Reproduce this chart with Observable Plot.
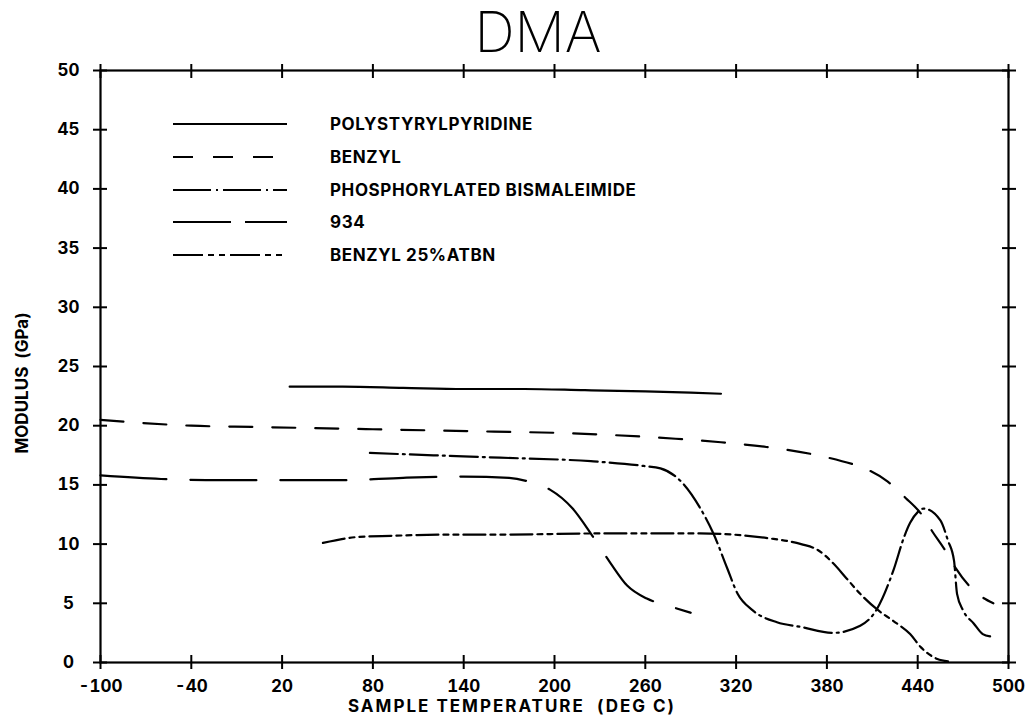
<!DOCTYPE html>
<html>
<head>
<meta charset="utf-8">
<script src="https://cdn.jsdelivr.net/npm/d3@7"></script>
<script src="https://cdn.jsdelivr.net/npm/@observablehq/plot@0.6"></script>
<style>
  body { margin: 0; background: #fff; }
  #wrap { position: relative; width: 1035px; height: 725px; font-family: Inter, "DejaVu Sans", sans-serif; }
  .lbl { position: absolute; font-weight: 700; font-size: 17px; line-height: 16px; color: #000; white-space: nowrap; }
  #title { position: absolute; left: 0; top: 2px; width: 1076px; text-align: center; font-family: Inter, "DejaVu Sans", sans-serif; font-weight: 200; font-size: 56px; line-height: 60px; color: #000; }
  #legend { position: absolute; left: 173px; top: 110px; }
  .row { position: absolute; left: 0; height: 28px; width: 520px; }
  .row svg { position: absolute; left: 0; top: 0; }
  .row span { position: absolute; left: 157px; top: 4px; font-weight: 700; font-size: 17px; line-height: 20px; letter-spacing: 0.6px; white-space: nowrap; }
</style>
</head>
<body>
<div id="wrap">
  <div id="title">DMA</div>
  <div id="chart"></div>
  <div class="lbl" id="xlab" style="left:348px; top:698px; letter-spacing: 2px;">SAMPLE TEMPERATURE &nbsp;(DEG C)</div>
  <div class="lbl" id="ylab" style="left:22px; top:383px; transform: translate(-50%,-50%) rotate(-90deg);">MODULUS &nbsp;(GPa)</div>
  <div id="legend"></div>
</div>
<script>
// ---- data ----
const seriesNames = ["POLYSTYRYLPYRIDINE", "BENZYL", "PHOSPHORYLATED BISMALEIMIDE", "934", "BENZYL 25%ATBN"];

const polyT = [25, 60, 100, 140, 180, 220, 260, 290, 310];
const polyE = [23.3, 23.3, 23.2, 23.1, 23.1, 23.0, 22.9, 22.8, 22.7];

const benzylT = [-100, -80, -40, 0, 40, 80, 120, 160, 200, 240, 280, 310, 340, 370, 390, 405, 420, 432, 442, 450, 458, 465, 476, 490];
const benzylE = [20.5, 20.3, 20.0, 19.9, 19.8, 19.7, 19.6, 19.5, 19.4, 19.2, 18.9, 18.6, 18.2, 17.6, 17.0, 16.4, 15.3, 13.9, 12.6, 11.0, 9.5, 8.0, 6.2, 5.0];

const phosT = [78, 120, 164, 224, 259, 270, 285, 296, 305, 314, 321, 331, 347, 363, 384, 402, 413, 424, 431, 435, 440, 444, 455, 460, 464, 466, 470, 477, 483, 488];
const phosE = [17.7, 17.5, 17.3, 17.0, 16.6, 16.4, 15.1, 13.1, 10.9, 8.0, 5.8, 4.4, 3.4, 3.0, 2.5, 3.1, 4.5, 7.8, 10.6, 11.8, 12.7, 13.0, 12.0, 10.3, 8.6, 5.8, 4.4, 3.3, 2.4, 2.2];

const t934T = [-100, -60, -20, 20, 60, 100, 140, 170, 185, 197, 212, 225, 237, 248, 261, 275, 290];
const t934E = [15.8, 15.5, 15.4, 15.4, 15.4, 15.6, 15.7, 15.6, 15.2, 14.6, 13.0, 10.7, 8.4, 6.5, 5.4, 4.8, 4.2];

const atbnT = [47, 70, 92, 130, 164, 230, 296, 341, 363, 374, 384, 393, 402, 413, 424, 435, 442, 453, 460];
const atbnE = [10.1, 10.6, 10.7, 10.8, 10.8, 10.9, 10.9, 10.5, 10.0, 9.5, 8.4, 7.1, 5.8, 4.5, 3.5, 2.4, 1.3, 0.3, 0.1];

const xTicks = [-100, -40, 20, 80, 140, 200, 260, 320, 380, 440, 500];
const yTicks = [0, 5, 10, 15, 20, 25, 30, 35, 40, 45, 50];

// ---- styles ----
const plotDash = ["none", "23,20", "28,5,2,5", "66,24", "22,5,5,5,5,5"];
const legendDash = ["none", "20,20", "38,5,2,5", "58,14", "30,5,6,5,6,5"];

const series = [
  [polyT, polyE], [benzylT, benzylE], [phosT, phosE], [t934T, t934E], [atbnT, atbnE]
];
const rows = series.flatMap(([T, E], k) => T.map((t, i) => ({s: seriesNames[k], t, e: E[i]})));

const lineMarks = seriesNames.map((name, k) =>
  Plot.line(rows.filter(d => d.s === name), {
    x: "t", y: "e", stroke: "#000", strokeWidth: 2.2,
    strokeDasharray: plotDash[k], curve: "monotone-x"
  })
);

const fmt = d => String(d);
const chart = Plot.plot({
  width: 1035,
  height: 725,
  marginTop: 70,
  marginRight: 27,
  marginBottom: 63,
  marginLeft: 100,
  style: {fontFamily: "Inter, 'DejaVu Sans', sans-serif", fontSize: "17px", fontWeight: 700, color: "#000", background: "#fff"},
  x: {domain: [-100, 500], ticks: xTicks},
  y: {domain: [0, 50], ticks: yTicks},
  marks: [
    ...lineMarks,
    Plot.frame({stroke: "#000", strokeWidth: 2.2}),
    Plot.axisX(xTicks, {anchor: "bottom", tickSize: 14, dy: -7, tickPadding: 10, tickFormat: fmt, label: null, strokeWidth: 2}),
    Plot.axisX(xTicks, {anchor: "top", tickSize: 14, dy: 7, tickFormat: () => "", label: null, strokeWidth: 2}),
    Plot.axisY(yTicks, {anchor: "left", tickSize: 14, dx: 7, tickPadding: 25, textAnchor: "middle", tickFormat: fmt, label: null, strokeWidth: 2}),
    Plot.axisY(yTicks, {anchor: "right", tickSize: 14, dx: -7, tickFormat: () => "", label: null, strokeWidth: 2})
  ]
});
document.getElementById("chart").appendChild(chart);

// ---- legend ----
const legend = document.getElementById("legend");
seriesNames.forEach((name, k) => {
  const row = document.createElement("div");
  row.className = "row";
  row.style.top = (k * 32.8) + "px";
  const svg = d3.create("svg").attr("width", 116).attr("height", 28);
  svg.append("line").attr("x1", 0).attr("x2", 114).attr("y1", 14).attr("y2", 14)
    .attr("stroke", "#000").attr("stroke-width", 2).attr("stroke-dasharray", legendDash[k]);
  row.appendChild(svg.node());
  const span = document.createElement("span");
  span.textContent = name;
  row.appendChild(span);
  legend.appendChild(row);
});
</script>
</body>
</html>
